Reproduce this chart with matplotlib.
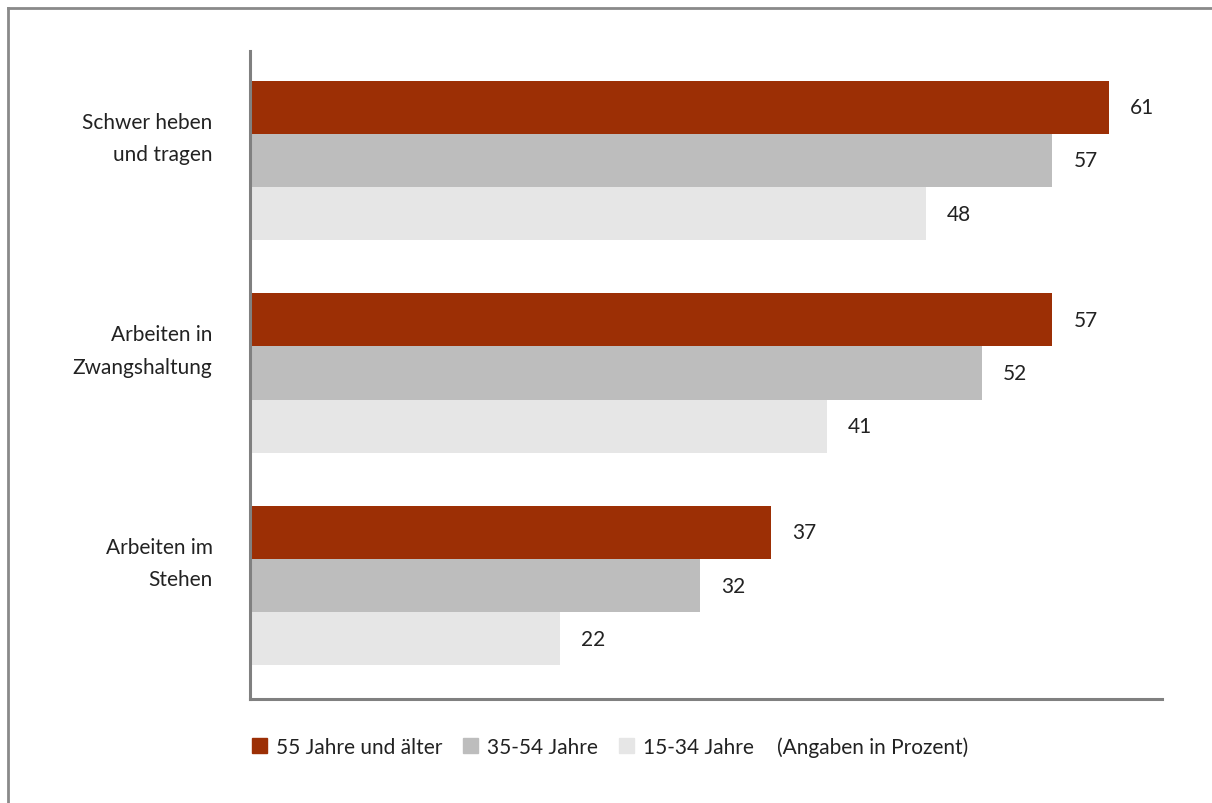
import matplotlib
matplotlib.use("Agg")
import matplotlib.pyplot as plt
import matplotlib.patches as mpatches
from matplotlib.lines import Line2D
import numpy as np

plt.rcParams['font.family'] = ['Lato', 'DejaVu Sans']

categories = ["Schwer heben\nund tragen", "Arbeiten in\nZwangshaltung", "Arbeiten im\nStehen"]
series_names = ["55 Jahre und älter", "35-54 Jahre", "15-34 Jahre"]
values = {
    "55 Jahre und älter": [61, 57, 37],
    "35-54 Jahre": [57, 52, 32],
    "15-34 Jahre": [48, 41, 22],
}
colors = ["#9c2f05", "#bdbdbd", "#e6e6e6"]
note = "(Angaben in Prozent)"
txt = "#222222"
fs = 15

fig = plt.figure(figsize=(12.12, 8.04), dpi=100)
ax = fig.add_axes([250 / 1212, 1 - 700 / 804, 912 / 1212, 648 / 804])

pos = np.arange(len(categories))
h = 0.25
for i, name in enumerate(series_names):
    y = pos + (i - 1) * h
    ax.barh(y, values[name], height=h, color=colors[i], label=name)
    for yy, v in zip(y, values[name]):
        ax.text(v + 1.5, yy, str(v), va="center", ha="left", fontsize=fs, color=txt)

ax.set_xlim(0, 64.8)
ax.set_ylim(2.534, -0.515)
ax.set_xticks([])
ax.set_yticks(pos - 0.145)
ax.set_yticklabels(categories, fontsize=fs, color=txt, linespacing=1.8)
ax.tick_params(axis="y", length=0, pad=27)
for s in ["top", "right"]:
    ax.spines[s].set_visible(False)
for s in ["left", "bottom"]:
    ax.spines[s].set_color("#808080")
    ax.spines[s].set_linewidth(2.2)

handles = [mpatches.Patch(color=c) for c in colors]
leg = fig.legend(handles, series_names, loc="center left",
                 bbox_to_anchor=(252 / 1212, 1 - 748 / 804), ncol=3, frameon=False,
                 fontsize=fs, handlelength=0.72, handleheight=0.72, handletextpad=0.43,
                 columnspacing=1.0, borderpad=0, borderaxespad=0)
for t in leg.get_texts():
    t.set_color(txt)
fig.text(777 / 1212, 1 - 748 / 804, note, fontsize=fs, color=txt, va="center", ha="left")

# outer frame
fig.add_artist(Line2D([8 / 1212, 8 / 1212], [0, 1 - 9 / 804], transform=fig.transFigure,
                      color="#8a8a8a", lw=2))
fig.add_artist(Line2D([8 / 1212, 1], [1 - 9 / 804, 1 - 9 / 804], transform=fig.transFigure,
                      color="#8a8a8a", lw=2))

fig.savefig("out.png", dpi=100)
